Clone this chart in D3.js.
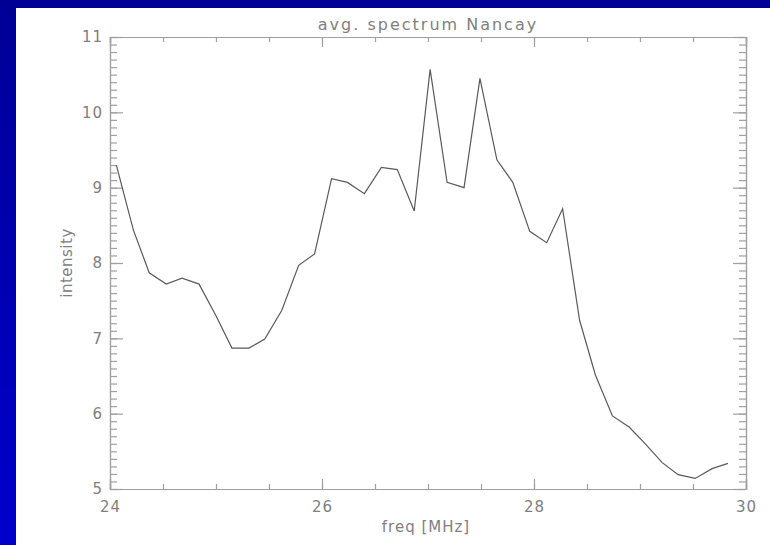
<html>
<head>
<title>avg. spectrum Nancay</title>
<script src="https://cdn.jsdelivr.net/npm/d3@7"></script>
<style>
  body { margin: 0; overflow: hidden; }
  text { font-family: "DejaVu Sans", sans-serif; fill: #808080; }
</style>
</head>
<body>
<script>
// values
var freq = [24.06, 24.22, 24.37, 24.53, 24.68, 24.84, 25.00, 25.15, 25.31, 25.46,
            25.62, 25.78, 25.93, 26.09, 26.24, 26.40, 26.56, 26.71, 26.87, 27.02,
            27.18, 27.34, 27.49, 27.65, 27.80, 27.96, 28.12, 28.27, 28.43, 28.58,
            28.74, 28.90, 29.05, 29.21, 29.36, 29.52, 29.68, 29.83];
var intensity = [9.30, 8.44, 7.87, 7.72, 7.80, 7.72, 7.30, 6.87, 6.87, 6.99,
                 7.37, 7.97, 8.12, 9.12, 9.07, 8.92, 9.27, 9.24, 8.69, 10.57,
                 9.07, 9.00, 10.45, 9.37, 9.07, 8.42, 8.27, 8.72, 7.24, 6.51,
                 5.97, 5.82, 5.60, 5.35, 5.19, 5.14, 5.27, 5.34];
var xMajor = [24, 26, 28, 30];
var xMinor = d3.range(24, 30.01, 0.5);
var yMajor = [5, 6, 7, 8, 9, 10, 11];
var yMinor = d3.range(5, 11.001, 0.1);

var width = 770, height = 545;
var plotLeft = 110, plotRight = 746, plotTop = 37, plotBottom = 489;

var svg = d3.select("body").append("svg")
    .attr("width", width)
    .attr("height", height);

var grad = svg.append("defs").append("linearGradient")
    .attr("id", "bg").attr("x1", 0).attr("y1", 0).attr("x2", 0).attr("y2", 1);
grad.append("stop").attr("offset", "0%").attr("stop-color", "#000096");
grad.append("stop").attr("offset", "100%").attr("stop-color", "#0000cc");

svg.append("rect").attr("width", width).attr("height", height).attr("fill", "url(#bg)");
svg.append("rect").attr("x", 16).attr("y", 8)
    .attr("width", width - 16).attr("height", height - 8).attr("fill", "#fff");

var x = d3.scaleLinear().domain([24, 30]).range([plotLeft, plotRight]);
var y = d3.scaleLinear().domain([5, 11]).range([plotBottom, plotTop]);

function style(g) {
    g.selectAll("path, line").attr("stroke", "#a0a0a0").attr("stroke-width", 1.2);
    g.selectAll("text").attr("fill", "#808080").style("font-size", "15px")
        .style("letter-spacing", "1px")
        .style("font-family", "DejaVu Sans, sans-serif");
    g.attr("font-family", null).attr("font-size", null);
}

// minor ticks, no labels
svg.append("g").attr("transform", "translate(0," + plotBottom + ")")
    .call(d3.axisBottom(x).tickValues(xMinor).tickSize(-5).tickFormat(""))
    .call(style);
svg.append("g").attr("transform", "translate(0," + plotTop + ")")
    .call(d3.axisTop(x).tickValues(xMinor).tickSize(-5).tickFormat(""))
    .call(style);
svg.append("g").attr("transform", "translate(" + plotLeft + ",0)")
    .call(d3.axisLeft(y).tickValues(yMinor).tickSize(-7).tickFormat(""))
    .call(style);
svg.append("g").attr("transform", "translate(" + plotRight + ",0)")
    .call(d3.axisRight(y).tickValues(yMinor).tickSize(-7).tickFormat(""))
    .call(style);

// major ticks
svg.append("g").attr("transform", "translate(0," + plotBottom + ")")
    .call(d3.axisBottom(x).tickValues(xMajor).tickSize(-10).tickPadding(12).tickFormat(d3.format("d")))
    .call(style);
svg.append("g").attr("transform", "translate(0," + plotTop + ")")
    .call(d3.axisTop(x).tickValues(xMajor).tickSize(-10).tickFormat(""))
    .call(style);
svg.append("g").attr("transform", "translate(" + plotLeft + ",0)")
    .call(d3.axisLeft(y).tickValues(yMajor).tickSize(-13).tickPadding(7).tickFormat(d3.format("d")))
    .call(style);
svg.append("g").attr("transform", "translate(" + plotRight + ",0)")
    .call(d3.axisRight(y).tickValues(yMajor).tickSize(-13).tickFormat(""))
    .call(style);

var line = d3.line()
    .x(function(d, i) { return x(freq[i]); })
    .y(function(d) { return y(d); });

svg.append("path")
    .datum(intensity)
    .attr("fill", "none")
    .attr("stroke", "#5a5a5a")
    .attr("stroke-width", 1.2)
    .attr("d", line);

svg.append("text")
    .attr("x", (plotLeft + plotRight) / 2).attr("y", 30)
    .attr("text-anchor", "middle")
    .style("font-size", "16px")
    .style("letter-spacing", "2px")
    .text("avg. spectrum Nancay");

svg.append("text")
    .attr("x", (plotLeft + plotRight) / 2 - 2).attr("y", 532)
    .attr("text-anchor", "middle")
    .style("font-size", "15px")
    .style("letter-spacing", "1px")
    .text("freq [MHz]");

svg.append("text")
    .attr("transform", "translate(72," + (plotTop + plotBottom) / 2 + ") rotate(-90)")
    .attr("text-anchor", "middle")
    .style("font-size", "15px")
    .style("letter-spacing", "0.5px")
    .text("intensity");
</script>
</body>
</html>
